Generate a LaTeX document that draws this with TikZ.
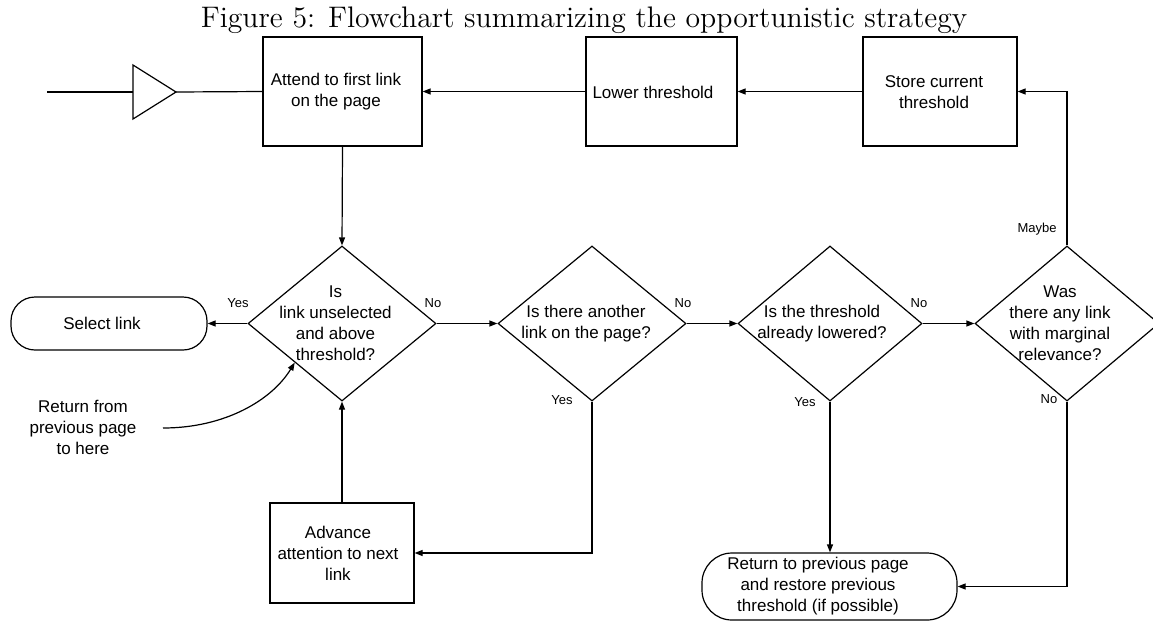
\documentclass[tikz,border=0pt]{standalone}
\usepackage{fontspec}
\setsansfont{Liberation Sans}
\newfontfamily\titlefont{lmroman12-regular.otf}
\usetikzlibrary{shapes.geometric,arrows.meta}
\tikzset{
  ln/.style={line width=1.2pt},
  arr/.style={ln,-{Triangle[length=8pt,width=6pt]}},
  box/.style={draw,ln,rectangle,inner sep=0pt,minimum width=#1},
  dia/.style={draw,ln,diamond,inner sep=0pt,minimum width=#1,minimum height=155pt},
  pill/.style={draw,ln,rectangle,rounded corners=24pt,inner sep=0pt},
  txt/.style={font=\sffamily\fontsize{17}{21}\selectfont,align=center,inner sep=0pt},
  lbl/.style={font=\sffamily\fontsize{13}{15}\selectfont,inner sep=0pt},
}
\begin{document}
\begin{tikzpicture}[x=1pt,y=-1pt]
\useasboundingbox (0,0) rectangle (1153,622);
% title
\node[anchor=base,font=\titlefont\fontsize{29.7}{35}\selectfont,inner sep=0pt] (title) at (584,27) {Figure 5: Flowchart summarizing the opportunistic strategy};
% top boxes
\node[box=159pt,minimum height=109pt] (a) at (342.5,91.5) {};
\node[txt] (at) at (336,92) {Attend to first link\\on the page};
\node[box=151pt,minimum height=109pt] (low) at (661.5,91.5) {};
\node[txt] (lowt) at (653,92) {Lower threshold};
\node[box=154pt,minimum height=109pt] (store) at (940,91.5) {};
\node[txt] (storet) at (934,92) {Store current\\threshold};
% entry with triangle
\coordinate (start) at (47,92);
\coordinate (trib) at (133,92);
\coordinate (trit) at (176,92);
\draw[ln] (start) -- (trib);
\draw[ln,line join=miter] (133,65) -- (trit) -- (133,119) -- cycle;
\draw[ln] (trit) -- (a.west);
% diamonds
\node[dia=188pt] (d1) at (342,323.5) {};
\node[txt] (d1t) at (335.5,323.5) {Is\\link unselected\\and above\\threshold?};
\node[dia=188pt] (d2) at (592,323.5) {};
\node[txt] (d2t) at (586,323.5) {Is there another\\link on the page?};
\node[dia=184pt] (d3) at (830,323.5) {};
\node[txt] (d3t) at (822,323.5) {Is the threshold\\already lowered?};
\node[dia=184pt] (d4) at (1067,323.5) {};
\node[txt] (d4t) at (1060,323.5) {Was\\there any link\\with marginal\\relevance?};
% terminals and boxes below
\node[pill,minimum width=196pt,minimum height=53pt] (sel) at (109,323.5) {};
\node[txt] (selt) at (102,323.5) {Select link};
\node[box=144pt,minimum height=100pt] (adv) at (342,553) {};
\node[txt] (advt) at (338,553) {Advance\\attention to next\\link};
\node[pill,minimum width=255pt,minimum height=67pt,rounded corners=30pt] (ret) at (829.5,586.5) {};
\node[txt] (rett) at (818,586) {Return to previous page\\and restore previous\\threshold (if possible)};
\node[txt] (rfrom) at (83,427) {Return from\\previous page\\to here};
\coordinate (cs) at (163,428);
% connectors
\draw[arr] (store.west) -- (low.east);
\draw[arr] (low.west) -- (a.east);
\draw[arr] (d4.north) |- (store.east);
\draw[arr] (a.south) -- (d1.north);
\draw[arr] (d1.west) -- (sel.east);
\draw[arr] (d1.east) -- (d2.west);
\draw[arr] (d2.east) -- (d3.west);
\draw[arr] (d3.east) -- (d4.west);
\draw[arr] (d2.south) |- (adv.east);
\draw[arr] (adv.north) -- (d1.south);
\draw[arr] (d3.south) -- (d3.south |- ret.north);
\draw[arr] (d4.south) |- (ret.east);
\draw[arr] (cs) .. controls (225,428) and (272,400) .. (d1.south west);
% labels
\node[lbl] (l1) at (238,303) {Yes};
\node[lbl] (l2) at (433,303) {No};
\node[lbl] (l3) at (683,303) {No};
\node[lbl] (l4) at (562,400) {Yes};
\node[lbl] (l5) at (919,303) {No};
\node[lbl] (l6) at (805,402) {Yes};
\node[lbl] (l7) at (1037,229) {Maybe};
\node[lbl] (l8) at (1049,399) {No};
\end{tikzpicture}
\end{document}
